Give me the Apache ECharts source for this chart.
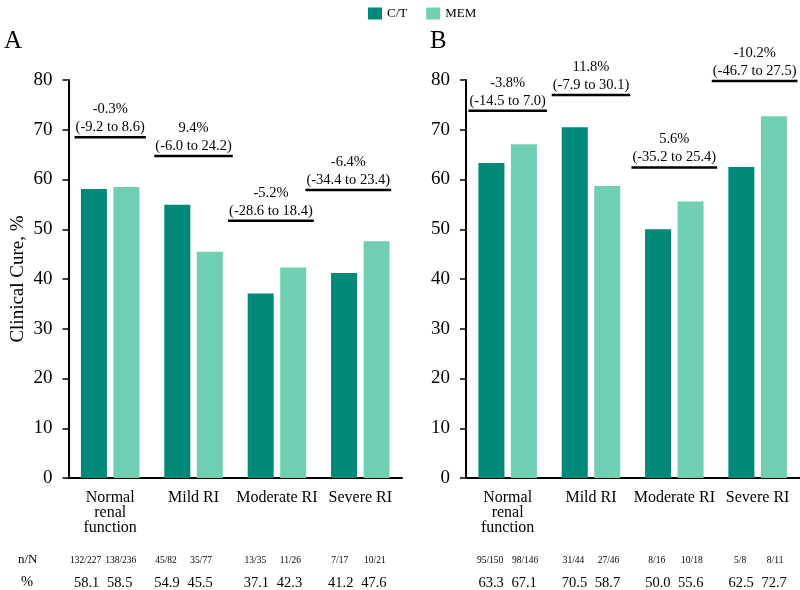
<!DOCTYPE html>
<html><head><meta charset="utf-8">
<script src="https://cdn.jsdelivr.net/npm/echarts@6/dist/echarts.min.js"></script>
<style>html,body{margin:0;padding:0;background:#fff}#c{width:800px;height:590px}</style>
</head><body><div id="c"></div>
<script>
var categories = ["Normal\nrenal\nfunction", "Mild RI", "Moderate RI", "Severe RI"];
var ctA = [58.1, 54.9, 37.1, 41.2];
var memA = [58.5, 45.5, 42.3, 47.6];
var ctB = [63.3, 70.5, 50.0, 62.5];
var memB = [67.1, 58.7, 55.6, 72.7];
var nA_ct = ["132/227", "45/82", "13/35", "7/17"];
var nA_mem = ["138/236", "35/77", "11/26", "10/21"];
var nB_ct = ["95/150", "31/44", "8/16", "5/8"];
var nB_mem = ["98/146", "27/46", "10/18", "8/11"];
var diffA = ["-0.3%", "9.4%", "-5.2%", "-6.4%"];
var ciA = ["(-9.2 to 8.6)", "(-6.0 to 24.2)", "(-28.6 to 18.4)", "(-34.4 to 23.4)"];
var lineA = [68.5, 64.7, 51.7, 57.9];
var diffB = ["-3.8%", "11.8%", "5.6%", "-10.2%"];
var ciB = ["(-14.5 to 7.0)", "(-7.9 to 30.1)", "(-35.2 to 25.4)", "(-46.7 to 27.5)"];
var lineB = [73.8, 77.0, 62.4, 79.8];
var yTicks = [0, 10, 20, 30, 40, 50, 60, 70, 80];

var FONT = "'Liberation Serif', 'Times New Roman', serif";
var C_CT = '#008878', C_MEM = '#70CFB2';
var annShift = [[0, 0, -6, -12], [0, 0, 0, -3]];
var tableShift = [[-7, -10, -4, -3], [0, 0, 0, 0]];

var ctx = document.createElement('canvas').getContext('2d');
function tw(s, size) { ctx.font = size + "px " + FONT; return ctx.measureText(s).width; }

var chart = echarts.init(document.getElementById('c'), null, {renderer: 'canvas'});

function annSeries(gi, diff, ci, lv) {
  return {
    type: 'custom', xAxisIndex: gi, yAxisIndex: gi, clip: false, silent: true,
    data: lv.map(function (v, i) { return [i, v]; }),
    renderItem: function (params, api) {
      var i = params.dataIndex;
      var p = api.coord([api.value(0), api.value(1)]);
      var cx = p[0] + annShift[gi][i];
      var w = tw(ci[i], 14.5) + 2;
      return {
        type: 'group', children: [
          {type: 'line', shape: {x1: cx - w / 2, y1: p[1], x2: cx + w / 2, y2: p[1]}, style: {stroke: '#000', lineWidth: 2.5}},
          {type: 'text', style: {text: ci[i], x: cx, y: p[1] - 10, align: 'center', verticalAlign: 'middle', font: "14.5px " + FONT, fill: '#000'}},
          {type: 'text', style: {text: diff[i], x: cx, y: p[1] - 28, align: 'center', verticalAlign: 'middle', font: "14.5px " + FONT, fill: '#000'}}
        ]
      };
    }
  };
}

function tableSeries(gi, nCt, nMem, vCt, vMem) {
  return {
    type: 'custom', xAxisIndex: gi, yAxisIndex: gi, clip: false, silent: true,
    data: vCt.map(function (v, i) { return [i, 0]; }),
    renderItem: function (params, api) {
      var i = params.dataIndex;
      var p = api.coord([api.value(0), 0]);
      var band = api.size([1, 0])[0];
      var off = band * 0.198;
      var sh = tableShift[gi][i];
      var xs = [p[0] - off + sh, p[0] + off + sh];
      var f1 = "9.5px " + FONT, f2 = "14.5px " + FONT;
      return {
        type: 'group', children: [
          {type: 'text', style: {text: nCt[i], x: xs[0] - 1, y: p[1] + 82, align: 'center', verticalAlign: 'middle', font: f1, fill: '#000'}},
          {type: 'text', style: {text: nMem[i], x: xs[1] + 1, y: p[1] + 82, align: 'center', verticalAlign: 'middle', font: f1, fill: '#000'}},
          {type: 'text', style: {text: vCt[i].toFixed(1), x: xs[0], y: p[1] + 105, align: 'center', verticalAlign: 'middle', font: f2, fill: '#000'}},
          {type: 'text', style: {text: vMem[i].toFixed(1), x: xs[1], y: p[1] + 105, align: 'center', verticalAlign: 'middle', font: f2, fill: '#000'}}
        ]
      };
    }
  };
}

function xAx(gi) {
  return {
    type: 'category', gridIndex: gi, data: categories,
    axisLine: {lineStyle: {color: '#000', width: 2}},
    axisTick: {show: false},
    axisLabel: {color: '#000', fontFamily: FONT, fontSize: 16, lineHeight: 15, margin: 12, interval: 0}
  };
}
function yAx(gi) {
  return {
    type: 'value', gridIndex: gi, min: yTicks[0], max: yTicks[yTicks.length - 1], interval: yTicks[1] - yTicks[0],
    name: gi === 0 ? 'Clinical Cure, %' : '', nameLocation: 'middle', nameGap: 41,
    nameTextStyle: {color: '#000', fontFamily: FONT, fontSize: 19},
    axisLine: {show: true, lineStyle: {color: '#000', width: 2}},
    axisTick: {show: true, length: 6, lineStyle: {color: '#000', width: 1.5}},
    splitLine: {show: false},
    axisLabel: {color: '#000', fontFamily: FONT, fontSize: 19, margin: 16}
  };
}
function bar(name, gi, data, color) {
  return {name: name, type: 'bar', xAxisIndex: gi, yAxisIndex: gi, data: data, barWidth: 26, barGap: '25%',
    itemStyle: {color: color}, silent: true};
}

chart.setOption({
  animation: false,
  textStyle: {fontFamily: FONT},
  legend: {
    left: 363, top: 2, itemWidth: 14, itemHeight: 12, itemGap: 19,
    textStyle: {color: '#000', fontFamily: FONT, fontSize: 13},
    data: [{name: 'C/T', icon: 'rect'}, {name: 'MEM', icon: 'rect'}]
  },
  graphic: [
    {type: 'text', left: 4, top: 29, style: {text: 'A', font: "25px " + FONT, fill: '#000'}},
    {type: 'text', left: 430, top: 29, style: {text: 'B', font: "25px " + FONT, fill: '#000'}},
    {type: 'text', left: 18, top: 553, style: {text: 'n/N', font: "13px " + FONT, fill: '#000'}},
    {type: 'text', left: 21, top: 575, style: {text: '%', font: "14.5px " + FONT, fill: '#000'}}
  ],
  grid: [
    {left: 68.5, width: 333.5, top: 80, height: 398},
    {left: 466, width: 333.3, top: 80, height: 398}
  ],
  xAxis: [xAx(0), xAx(1)],
  yAxis: [yAx(0), yAx(1)],
  series: [
    bar('C/T', 0, ctA, C_CT), bar('MEM', 0, memA, C_MEM),
    bar('C/T', 1, ctB, C_CT), bar('MEM', 1, memB, C_MEM),
    annSeries(0, diffA, ciA, lineA), annSeries(1, diffB, ciB, lineB),
    tableSeries(0, nA_ct, nA_mem, ctA, memA), tableSeries(1, nB_ct, nB_mem, ctB, memB)
  ]
});
</script>
</body></html>
